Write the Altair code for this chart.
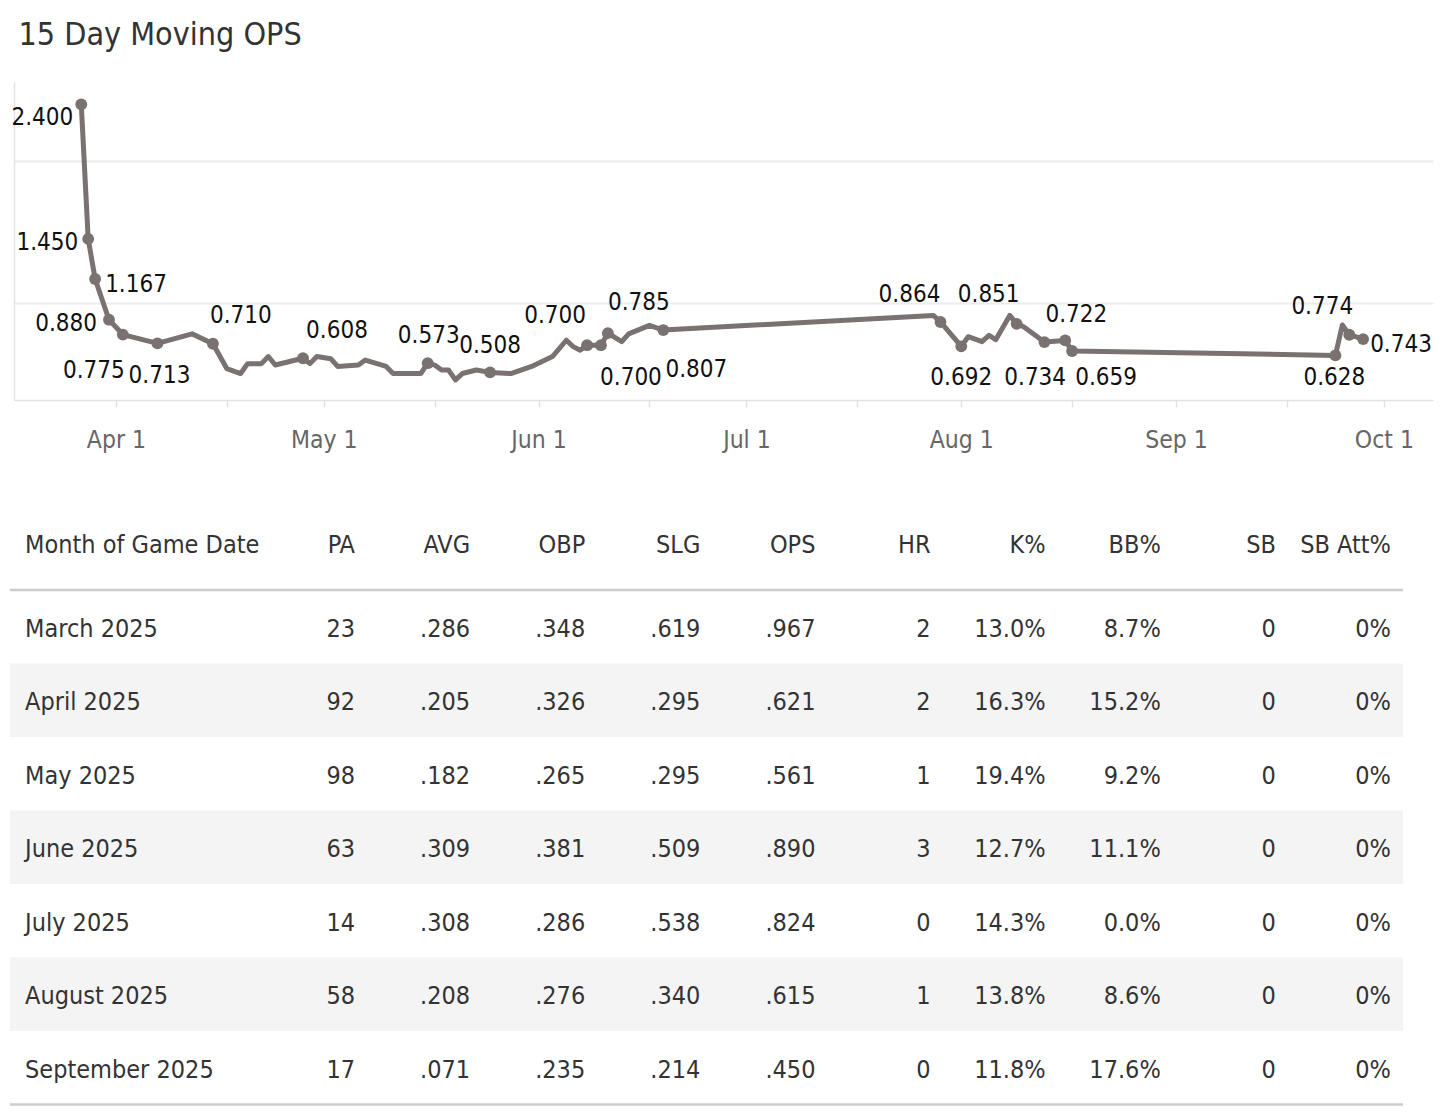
import altair as alt
import pandas as pd

FONT = "DejaVu Sans Condensed, Liberation Sans Narrow, Roboto, sans-serif"
LINE_COLOR = "#7a7171"
TEXT_DARK = "#333333"

# ---------------- line chart data (15 day moving OPS) ----------------
dates = [
    "2025-03-27", "2025-03-28", "2025-03-29", "2025-03-31", "2025-04-02", "2025-04-07",
    "2025-04-12", "2025-04-15", "2025-04-17", "2025-04-19", "2025-04-20", "2025-04-22",
    "2025-04-23", "2025-04-24", "2025-04-28", "2025-04-29", "2025-04-30", "2025-05-02",
    "2025-05-03", "2025-05-06", "2025-05-07", "2025-05-10", "2025-05-11", "2025-05-15",
    "2025-05-16", "2025-05-17", "2025-05-18", "2025-05-19", "2025-05-20", "2025-05-21",
    "2025-05-23", "2025-05-25", "2025-05-28", "2025-05-31", "2025-06-03", "2025-06-05",
    "2025-06-06", "2025-06-07", "2025-06-08", "2025-06-10", "2025-06-11", "2025-06-13",
    "2025-06-14", "2025-06-17", "2025-06-19", "2025-07-28", "2025-07-29", "2025-08-01",
    "2025-08-02", "2025-08-04", "2025-08-05", "2025-08-06", "2025-08-08", "2025-08-09",
    "2025-08-10", "2025-08-13", "2025-08-16", "2025-08-17", "2025-09-24", "2025-09-25",
    "2025-09-26", "2025-09-28",
]
ops = [
    2.400, 1.450, 1.167, 0.880, 0.775, 0.713,
    0.780, 0.710, 0.535, 0.500, 0.570, 0.570,
    0.620, 0.560, 0.608, 0.570, 0.620, 0.605,
    0.550, 0.560, 0.595, 0.550, 0.500, 0.500,
    0.573, 0.560, 0.525, 0.525, 0.455, 0.500,
    0.525, 0.508, 0.500, 0.550, 0.620, 0.735,
    0.690, 0.665, 0.700, 0.700, 0.785, 0.725,
    0.780, 0.840, 0.807, 0.910, 0.864, 0.692,
    0.760, 0.725, 0.770, 0.740, 0.910, 0.851,
    0.830, 0.722, 0.734, 0.659, 0.628, 0.843,
    0.774, 0.743,
]
# game dates that carry a dot and a value label
label_dates = [
    "2025-03-27", "2025-03-28", "2025-03-29", "2025-03-31", "2025-04-02", "2025-04-07",
    "2025-04-15", "2025-04-28", "2025-05-16", "2025-05-25", "2025-06-08", "2025-06-10",
    "2025-06-11", "2025-06-19", "2025-07-29", "2025-08-01", "2025-08-09", "2025-08-13",
    "2025-08-16", "2025-08-17", "2025-09-24", "2025-09-26", "2025-09-28",
]

# label placement (style only): date -> (align, dx, dy)
label_place = {
    "2025-03-27": ("right", -8, 21),
    "2025-03-28": ("right", -10, 11),
    "2025-03-29": ("left", 10, 13),
    "2025-03-31": ("right", -12, 11),
    "2025-04-02": ("center", -29, 43),
    "2025-04-07": ("center", 2, 40),
    "2025-04-15": ("center", 28, -21),
    "2025-04-28": ("center", 34, -20),
    "2025-05-16": ("center", 1, -20),
    "2025-05-25": ("center", 0, -19),
    "2025-06-08": ("center", -32, -22),
    "2025-06-10": ("center", 30, 40),
    "2025-06-11": ("center", 31, -23),
    "2025-06-19": ("center", 33, 47),
    "2025-07-29": ("center", -31, -20),
    "2025-08-01": ("center", 0, 39),
    "2025-08-09": ("center", -28, -22),
    "2025-08-13": ("center", 32, -20),
    "2025-08-16": ("center", -30, 45),
    "2025-08-17": ("center", 34, 34),
    "2025-09-24": ("center", -1, 30),
    "2025-09-26": ("center", -27, -21),
    "2025-09-28": ("left", 7, 13),
}

# ---------------- table data ----------------
header_first = "Month of Game Date"
months = ["March 2025", "April 2025", "May 2025", "June 2025",
          "July 2025", "August 2025", "September 2025"]
stat_cols = ["PA", "AVG", "OBP", "SLG", "OPS", "HR", "K%", "BB%", "SB", "SB Att%"]
pa = ["23", "92", "98", "63", "14", "58", "17"]
avg = [".286", ".205", ".182", ".309", ".308", ".208", ".071"]
obp = [".348", ".326", ".265", ".381", ".286", ".276", ".235"]
slg = [".619", ".295", ".295", ".509", ".538", ".340", ".214"]
ops_month = [".967", ".621", ".561", ".890", ".824", ".615", ".450"]
hr = ["2", "2", "1", "3", "0", "1", "0"]
k_pct = ["13.0%", "16.3%", "19.4%", "12.7%", "14.3%", "13.8%", "11.8%"]
bb_pct = ["8.7%", "15.2%", "9.2%", "11.1%", "0.0%", "8.6%", "17.6%"]
sb = ["0", "0", "0", "0", "0", "0", "0"]
sb_att = ["0%", "0%", "0%", "0%", "0%", "0%", "0%"]

# ---------------- line chart ----------------
series = pd.DataFrame({"date": dates, "ops": ops})
series["key"] = series["date"]
series["has_label"] = series["key"].isin(label_dates)
series["label"] = [f"{v:.3f}" for v in series["ops"]]

tick_values = []
for m in range(4, 10):
    tick_values.append(alt.DateTime(year=2025, month=m, date=1, utc=True))
    tick_values.append(alt.DateTime(year=2025, month=m, date=17, utc=True))
tick_values.append(alt.DateTime(year=2025, month=10, date=1, utc=True))

x_enc = alt.X(
    "date:T",
    scale=alt.Scale(
        type="utc",
        domain=[alt.DateTime(year=2025, month=3, date=17, hours=7, minutes=0, utc=True),
                alt.DateTime(year=2025, month=10, date=8, hours=2, minutes=0, utc=True)],
    ),
    axis=alt.Axis(
        values=tick_values,
        labelExpr="utcdate(datum.value) == 1 ? utcFormat(datum.value, '%b %-d') : ''",
        title=None, grid=False,
        domainColor="#e2e2e2", domainWidth=1.5,
        tickColor="#e2e2e2", tickSize=7, tickWidth=1.5,
        labelFont=FONT, labelFontSize=24.5, labelColor="#666666",
        labelBaseline="alphabetic", labelPadding=40,
        labelOverlap=False, labelFlush=False,
    ),
)
y_enc = alt.Y(
    "ops:Q",
    scale=alt.Scale(domain=[0.3133, 2.5575], nice=False, zero=False),
    axis=alt.Axis(values=[1, 2], labels=False, ticks=False, title=None,
                  domainColor="#e2e2e2", domainWidth=1.5,
                  grid=True, gridColor="#ececec", gridWidth=2),
)

base = alt.Chart(series)
line = base.mark_line(color=LINE_COLOR, strokeWidth=5, strokeJoin="round",
                      strokeCap="round").encode(x=x_enc, y=y_enc)
dots = base.transform_filter(alt.datum.has_label).mark_circle(
    color=LINE_COLOR, size=140, opacity=1).encode(x=x_enc, y=y_enc)

label_layers = []
for d in label_dates:
    align, dx, dy = label_place[d]
    label_layers.append(
        base.transform_filter(alt.datum.key == d).mark_text(
            font=FONT, fontSize=24, color="#111111", align=align,
            baseline="alphabetic", dx=dx, dy=dy,
        ).encode(x=x_enc, y=y_enc, text="label:N")
    )

line_chart = alt.layer(line, dots, *label_layers).properties(
    width=1419, height=318,
    title=alt.Title("15 Day Moving OPS", anchor="start", font=FONT, fontSize=32,
                    fontWeight="normal", color=TEXT_DARK, dx=7, offset=30),
)

# ---------------- table ----------------
cols_data = [pa, avg, obp, slg, ops_month, hr, k_pct, bb_pct, sb, sb_att]
cells = []
for i, m in enumerate(months):
    for c, vals in zip(stat_cols, cols_data):
        cells.append({"month": m, "col": c, "val": vals[i]})
cells = pd.DataFrame(cells)
month_df = pd.DataFrame({"month": months, "row": list(range(len(months)))})
band_df = month_df[month_df["row"] % 2 == 1]
header_df = pd.DataFrame({"col": stat_cols})
first_header_df = pd.DataFrame({"h": [header_first]})

row_scale = alt.Scale(type="band", range=[90, 604.5], paddingInner=0, paddingOuter=0)
col_scale = alt.Scale(type="point", domain=stat_cols, range=[341, 1377], padding=0)

TFS = 25
bands = alt.Chart(band_df).mark_rect(color="#f4f4f4").encode(
    y=alt.Y("month:N", sort=months, scale=row_scale, axis=None),
    x=alt.value(-4), x2=alt.value(1389),
)
month_text = alt.Chart(month_df).mark_text(
    font=FONT, fontSize=TFS, color=TEXT_DARK, align="left", baseline="alphabetic", dy=10
).encode(
    y=alt.Y("month:N", sort=months, scale=row_scale, axis=None),
    x=alt.value(11), text="month:N",
)
cell_text = alt.Chart(cells).mark_text(
    font=FONT, fontSize=TFS, color=TEXT_DARK, align="right", baseline="alphabetic", dy=10
).encode(
    y=alt.Y("month:N", sort=months, scale=row_scale, axis=None),
    x=alt.X("col:N", sort=stat_cols, scale=col_scale, axis=None),
    text="val:N",
)
head_text = alt.Chart(header_df).mark_text(
    font=FONT, fontSize=TFS, color=TEXT_DARK, align="right", baseline="alphabetic"
).encode(
    x=alt.X("col:N", sort=stat_cols, scale=col_scale, axis=None),
    y=alt.value(53), text="col:N",
)
first_head = alt.Chart(first_header_df).mark_text(
    font=FONT, fontSize=TFS, color=TEXT_DARK, align="left", baseline="alphabetic"
).encode(x=alt.value(11), y=alt.value(53), text="h:N")
top_rule = alt.Chart(first_header_df).mark_rule(color="#cccccc", strokeWidth=2.5).encode(
    x=alt.value(-4), x2=alt.value(1389), y=alt.value(90))
bottom_rule = alt.Chart(first_header_df).mark_rule(color="#cccccc", strokeWidth=2.5).encode(
    x=alt.value(-4), x2=alt.value(1389), y=alt.value(604.5))

table_chart = alt.layer(bands, top_rule, bottom_rule, month_text, cell_text,
                        head_text, first_head).properties(width=1389, height=605)

chart = alt.vconcat(line_chart, table_chart, spacing=100, bounds="flush").properties(
    padding={"left": 0, "top": 11, "right": 6, "bottom": 2},
    background="white",
).configure(font=FONT).configure_view(strokeWidth=0)

chart.save("out.html", embed_options={"renderer": "svg", "actions": False})
